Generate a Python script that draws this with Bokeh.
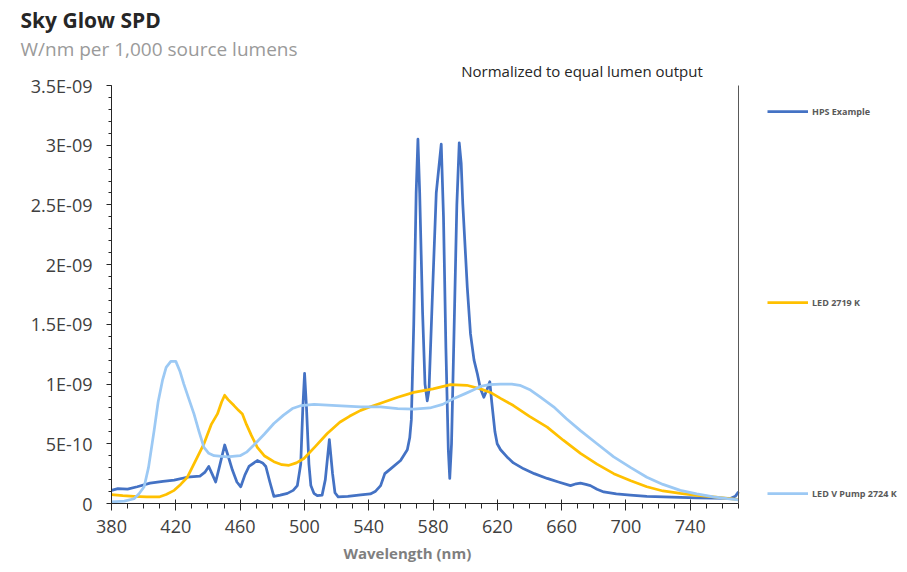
from bokeh.plotting import figure
from bokeh.models import ColumnDataSource, FixedTicker, Legend, LegendItem, Range1d, Title, Label
from bokeh.embed import file_html
from bokeh.resources import INLINE

# ---------------- data (values in units of 1E-09 W/nm) ----------------
hps_nm = [380, 384, 390, 396, 404, 412, 419, 427, 435, 438, 440.5, 442.5, 444.8, 447, 450.4,
          452.5, 455.2, 458, 460.4, 463, 465.5, 470.7, 474, 476, 478.5, 481, 485, 489.4, 493,
          495.6, 497.7, 499, 500.1, 501.3, 502.8, 504, 505.9, 508, 511, 513, 515.5, 517.5, 519,
          521, 527, 535, 541, 544, 547.4, 550, 553.6, 559.8, 564, 565.5, 566.5, 568, 569.5,
          570.6, 571.7, 573.5, 575, 576.4, 577.5, 579.5, 582, 585.1, 586.5, 588, 589.5, 590.4,
          591.5, 593, 594.8, 596.3, 597.5, 598.5, 601.3, 603.3, 605.5, 607.5, 609.5, 611.6,
          613.5, 615.3, 616.5, 618.5, 619.9, 622, 626, 630, 636.4, 643, 651, 658, 665.5, 669,
          671.7, 675, 677.9, 682, 686.2, 694, 702.7, 713, 723.4, 744.2, 764.9, 768, 770]
hps_val = [0.11, 0.125, 0.12, 0.14, 0.17, 0.185, 0.195, 0.22, 0.23, 0.26, 0.31, 0.25, 0.18, 0.30,
           0.49, 0.40, 0.28, 0.18, 0.14, 0.24, 0.31, 0.36, 0.34, 0.31, 0.18, 0.06, 0.07, 0.085,
           0.11, 0.15, 0.33, 0.80, 1.09, 0.80, 0.33, 0.15, 0.085, 0.065, 0.07, 0.20, 0.535, 0.25,
           0.09, 0.055, 0.06, 0.072, 0.08, 0.10, 0.15, 0.25, 0.29, 0.36, 0.45, 0.55, 0.70, 1.5,
           2.6, 3.05, 2.6, 1.6, 1.0, 0.86, 0.95, 1.7, 2.6, 3.01, 2.4, 1.3, 0.45, 0.21, 0.5, 1.4,
           2.5, 3.02, 2.85, 2.51, 1.81, 1.42, 1.2, 1.09, 0.96, 0.89, 0.95, 1.02, 0.85, 0.60, 0.50,
           0.45, 0.39, 0.34, 0.29, 0.25, 0.21, 0.18, 0.15, 0.165, 0.17, 0.16, 0.15, 0.12, 0.097,
           0.08, 0.07, 0.06, 0.055, 0.047, 0.042, 0.06, 0.097]

led2719_nm = [380, 387, 394, 402, 409.6, 414, 419, 423, 427.2, 432, 437.5, 442, 445.9, 448.5,
              450.4, 452.5, 456.2, 459, 461.4, 464, 467, 470.7, 475, 481, 486, 490.4, 495,
              499.7, 507, 514.2, 522, 528, 535, 541, 547.4, 558, 568, 580, 590.9, 601, 609.5,
              615.7, 622, 630, 640, 651, 661, 671.7, 682, 692.4, 703, 713, 723, 733.8, 744,
              754.5, 763, 770]
led2719_val = [0.075, 0.065, 0.06, 0.055, 0.055, 0.075, 0.11, 0.16, 0.22, 0.35, 0.50, 0.66, 0.75,
               0.85, 0.906, 0.87, 0.82, 0.78, 0.75, 0.66, 0.57, 0.47, 0.40, 0.35, 0.325, 0.32,
               0.34, 0.377, 0.48, 0.586, 0.68, 0.73, 0.78, 0.81, 0.84, 0.89, 0.93, 0.96, 0.996,
               0.99, 0.96, 0.93, 0.88, 0.82, 0.73, 0.64, 0.53, 0.42, 0.33, 0.25, 0.19, 0.14,
               0.105, 0.084, 0.068, 0.055, 0.043, 0.033]

vpump_nm = [380, 388, 394, 397, 400.3, 403, 406.5, 409, 411.7, 414, 416.9, 420, 422.5, 425, 428,
            431.3, 434.5, 437.5, 440.5, 443.8, 452, 460, 464, 468.6, 475, 481, 487, 492.5, 498,
            506, 520, 535, 547.4, 558, 568, 578, 586, 593, 600, 605, 609.5, 615, 622, 629, 634,
            640.6, 646.8, 655, 663, 671.7, 682, 692.4, 703, 713, 723, 733.8, 744, 754.5, 763, 770]
vpump_val = [0.013, 0.02, 0.04, 0.08, 0.14, 0.30, 0.61, 0.85, 1.03, 1.14, 1.19, 1.19, 1.11, 1.00,
             0.88, 0.75, 0.60, 0.47, 0.42, 0.40, 0.39, 0.40, 0.43, 0.49, 0.58, 0.67, 0.74, 0.795,
             0.82, 0.83, 0.82, 0.81, 0.81, 0.795, 0.79, 0.80, 0.83, 0.88, 0.92, 0.95, 0.98, 0.995,
             1.0, 1.0, 0.99, 0.95, 0.89, 0.81, 0.71, 0.61, 0.50, 0.39, 0.30, 0.22, 0.16, 0.11,
             0.08, 0.055, 0.04, 0.03]

series_names = ["HPS Example", "LED 2719 K", "LED V Pump 2724 K"]
x_ticks = [380, 420, 460, 500, 540, 580, 620, 660, 700, 740]
x_minor = list(range(380, 771, 10))
y_tick_labels = ["0", "5E-10", "1E-09", "1.5E-09", "2E-09", "2.5E-09", "3E-09", "3.5E-09"]
UNIT = 1e-9
X_MIN, X_MAX = 380, 770
Y_MAX = 3.5 * UNIT

# ---------------- figure geometry ----------------
W, H = 907, 572
FRAME_L, FRAME_B = 111, 503
PLOT_T = 85           # pixel of the 3.5E-09 level
FRAME_T = 61          # frame extends a bit higher so the note can sit inside it
PLOT_R = 738          # pixel where the wavelength axis ends (770 nm)
FRAME_R = 907         # frame extends further right so the legend can live inside it
px_per_nm = (PLOT_R - FRAME_L) / (X_MAX - X_MIN)
x_end = X_MAX + (FRAME_R - PLOT_R) / px_per_nm
y_end = Y_MAX * (FRAME_B - FRAME_T) / (FRAME_B - PLOT_T)

p = figure(width=W, height=H, output_backend="svg", toolbar_location=None, title=None,
           x_range=Range1d(X_MIN, x_end), y_range=Range1d(0, y_end),
           min_border_left=FRAME_L, min_border_right=W - FRAME_R,
           min_border_top=FRAME_T, min_border_bottom=H - FRAME_B)
p.background_fill_color = "white"
p.border_fill_color = "white"
p.outline_line_color = None
p.xgrid.visible = False
p.ygrid.visible = False

src_h = ColumnDataSource(dict(x=hps_nm, y=[v * UNIT for v in hps_val]))
src_o = ColumnDataSource(dict(x=led2719_nm, y=[v * UNIT for v in led2719_val]))
src_b = ColumnDataSource(dict(x=vpump_nm, y=[v * UNIT for v in vpump_val]))

r1 = p.line("x", "y", source=src_h, line_color="#4472C4", line_width=2.75, line_join="round")
r2 = p.line("x", "y", source=src_o, line_color="#FFC000", line_width=2.75, line_join="round")
r3 = p.line("x", "y", source=src_b, line_color="#9CC9F4", line_width=2.75, line_join="round")

# right border of the plot area (at the end of the wavelength axis)
p.segment(x0=[X_MAX], y0=[0], x1=[X_MAX], y1=[Y_MAX], line_color="#595959", line_width=1)

# axes
y_ticks = [i * 0.5 * UNIT for i in range(len(y_tick_labels))]
y_minor = [i * 0.1 * UNIT for i in range(36)]
p.yaxis.ticker = FixedTicker(ticks=y_ticks, minor_ticks=y_minor)
p.yaxis.major_label_overrides = {t: s for t, s in zip(y_ticks, y_tick_labels)}
p.yaxis.bounds = (0, Y_MAX)
p.xaxis.ticker = FixedTicker(ticks=x_ticks, minor_ticks=x_minor)
p.xaxis.bounds = (X_MIN, X_MAX)

for ax in (p.xaxis, p.yaxis):
    ax.axis_line_color = "#262626"
    ax.major_tick_line_color = "#262626"
    ax.minor_tick_line_color = "#262626"
    ax.major_label_text_font = "Open Sans"
    ax.major_label_text_font_size = "18px"
    ax.major_label_text_color = "#404040"

p.yaxis.major_tick_in = 0
p.yaxis.major_tick_out = 5
p.yaxis.minor_tick_in = 0
p.yaxis.minor_tick_out = 3
p.yaxis.major_label_standoff = 14

p.xaxis.major_tick_in = 4
p.xaxis.major_tick_out = 7
p.xaxis.minor_tick_in = 0
p.xaxis.minor_tick_out = 5
p.xaxis.major_label_standoff = 9

# titles (closest to the frame are added first)
p.add_layout(Title(text="W/nm per 1,000 source lumens", align="left", offset=20 - FRAME_L,
                   text_font="Open Sans", text_font_size="19px", text_font_style="normal",
                   text_color="#9a9a9a", standoff=0), "above")
p.add_layout(Title(text="Sky Glow SPD", align="left", offset=20 - FRAME_L,
                   text_font="Open Sans", text_font_size="21px", text_font_style="bold",
                   text_color="#262626", standoff=0), "above")
p.add_layout(Title(text="Wavelength (nm)", align="left", offset=343 - FRAME_L,
                   text_font="Open Sans", text_font_size="15px", text_font_style="bold",
                   text_color="#7f7f7f", standoff=10), "below")

p.add_layout(Label(x=581.5 - FRAME_L, y=FRAME_B - 70, x_units="screen", y_units="screen",
                   text="Normalized to equal lumen output", text_font="Open Sans",
                   text_font_size="15px", text_color="#262626", text_align="center",
                   text_baseline="middle"))

legend = Legend(items=[LegendItem(label=series_names[0], renderers=[r1]),
                       LegendItem(label=series_names[1], renderers=[r2]),
                       LegendItem(label=series_names[2], renderers=[r3])],
                location=(767 - FRAME_L, 0), orientation="vertical", spacing=171, padding=0,
                margin=0, glyph_width=41, glyph_height=20, label_height=20, label_standoff=4,
                label_text_font="Open Sans", label_text_font_size="9px",
                label_text_color="#595959", label_text_font_style="bold",
                border_line_color=None, background_fill_alpha=0)
p.add_layout(legend, "center")

open("out.html", "w").write(file_html(p, INLINE))
